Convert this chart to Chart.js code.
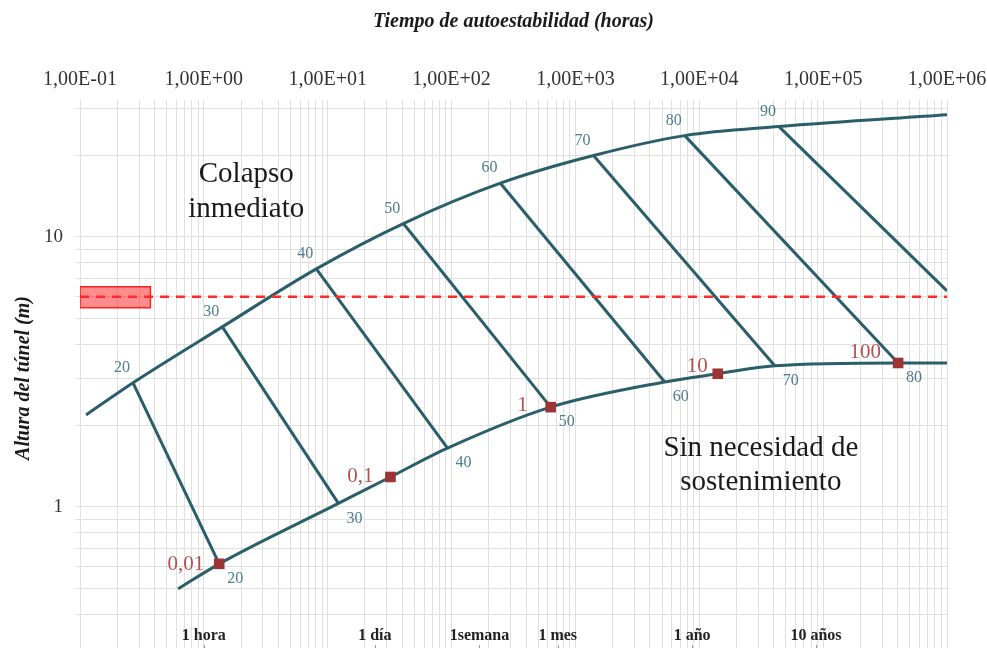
<!DOCTYPE html>
<html>
<head>
<meta charset="utf-8">
<script src="https://cdn.jsdelivr.net/npm/chart.js@4.4.1/dist/chart.umd.min.js"></script>
<style>
html, body { margin: 0; padding: 0; background: #fff; }
</style>
</head>
<body>
<canvas id="c" width="987" height="648"></canvas>
<script>
// axis ticks
var xMajorTicks = [0.1, 1, 10, 100, 1000, 10000, 100000, 1000000];
var xMajorLabels = ['1,00E-01', '1,00E+00', '1,00E+01', '1,00E+02', '1,00E+03', '1,00E+04', '1,00E+05', '1,00E+06'];
var yMajorTicks = [1, 10];
var yMajorLabels = ['1', '10'];

// upper boundary (colapso inmediato)
var upperX = [0.112, 0.268, 1.41, 8.09, 40.8, 248, 1400, 7640, 44000, 1000000];
var upperY = [2.19, 2.88, 4.64, 7.61, 11.2, 15.8, 20.0, 23.7, 25.6, 28.3];

// lower boundary (sin necesidad de sostenimiento)
var lowerX = [0.62, 1.33, 12.2, 32.1, 92.7, 631, 5260, 14100, 40700, 403000, 1000000];
var lowerY = [0.497, 0.615, 1.03, 1.29, 1.65, 2.34, 2.90, 3.11, 3.33, 3.41, 3.41];

// RMR lines: start on upper curve, end on lower curve (90 leaves at right edge)
var rmrTop = [20, 30, 40, 50, 60, 70, 80, 90];
var rmrTopX = [0.268, 1.41, 8.09, 40.8, 248, 1400, 7640, 44000];
var rmrTopY = [2.88, 4.64, 7.61, 11.2, 15.8, 20.0, 23.7, 25.6];
var rmrEndX = [1.33, 12.2, 92.7, 631, 5260, 40700, 403000, 1000000];
var rmrEndY = [0.615, 1.03, 1.65, 2.34, 2.90, 3.33, 3.41, 6.31];
var rmrBottom = [20, 30, 40, 50, 60, 70, 80];

// span points (m)
var spanLabels = ['0,01', '0,1', '1', '10', '100'];
var spanX = [1.33, 32.1, 631, 14100, 403000];
var spanY = [0.615, 1.29, 2.34, 3.11, 3.41];

// tunnel height band
var tunnelHeight = 6;
var bandX = [0.1, 0.37];
var bandY = [5.46, 6.53];

// time references (hours)
var timeMarks = [1, 24, 168, 720, 8760, 87600];
var timeLabels = ['1 hora', '1 día', '1semana', '1 mes', '1 año', '10 años'];

var SERIF = '"Liberation Serif", "Times New Roman", serif';
var TEAL = '#2a5e6a';

function pts(xs, ys) {
   return xs.map(function (x, i) { return { x: x, y: ys[i] }; });
}

function logTicks(min, max) {
   var t = [];
   for (var e = Math.floor(Math.log10(min)); e <= Math.ceil(Math.log10(max)); e++) {
      for (var m = 1; m < 10; m++) {
         var v = m * Math.pow(10, e);
         if (v >= min * 0.999 && v <= max * 1.001) t.push({ value: v });
      }
   }
   return t;
}

function majorLabel(v, ticks, labels) {
   var l = Math.log10(v);
   if (Math.abs(l - Math.round(l)) > 1e-6) return '';
   for (var i = 0; i < ticks.length; i++) {
      if (Math.abs(Math.log10(ticks[i]) - l) < 1e-6) return labels[i];
   }
   return '';
}

var datasets = [];

datasets.push({
   data: pts(spanX, spanY), showLine: false, order: 0,
   pointStyle: 'rect', pointRadius: 7.5, pointBackgroundColor: '#9c3434', pointBorderWidth: 0
});
datasets.push({
   data: [{ x: 0.1, y: tunnelHeight }, { x: 1000000, y: tunnelHeight }], showLine: true, order: 1,
   borderColor: '#ff2b2b', borderWidth: 2.5, borderDash: [9, 7], pointRadius: 0
});
datasets.push({
   data: [{ x: bandX[0], y: bandY[0] }, { x: bandX[1], y: bandY[0] }, { x: bandX[1], y: bandY[1] },
          { x: bandX[0], y: bandY[1] }, { x: bandX[0], y: bandY[0] }],
   showLine: true, order: 2, fill: 'shape',
   borderColor: '#ff2020', borderWidth: 1.5, backgroundColor: 'rgba(255,45,45,0.55)', pointRadius: 0
});
datasets.push({
   data: pts(upperX, upperY), showLine: true, order: 5, cubicInterpolationMode: 'monotone',
   borderColor: TEAL, borderWidth: 3, pointRadius: 0
});
datasets.push({
   data: pts(lowerX, lowerY), showLine: true, order: 5, cubicInterpolationMode: 'monotone',
   borderColor: TEAL, borderWidth: 3, pointRadius: 0
});
for (var i = 0; i < rmrTop.length; i++) {
   datasets.push({
      data: [{ x: rmrTopX[i], y: rmrTopY[i] }, { x: rmrEndX[i], y: rmrEndY[i] }],
      showLine: true, order: 6, borderColor: TEAL, borderWidth: 3, pointRadius: 0
   });
}

var overlay = {
   id: 'overlay',
   afterDatasetsDraw: function (chart) {
      var ctx = chart.ctx, xs = chart.scales.x, ys = chart.scales.y, area = chart.chartArea;
      ctx.save();
      ctx.textBaseline = 'middle';

      // RMR numbers
      ctx.font = '16px ' + SERIF;
      ctx.fillStyle = '#4b7d8b';
      ctx.textAlign = 'center';
      rmrTop.forEach(function (v, i) {
         ctx.fillText(String(v), xs.getPixelForValue(rmrTopX[i]) - 11, ys.getPixelForValue(rmrTopY[i]) - 15);
      });
      rmrBottom.forEach(function (v, i) {
         ctx.fillText(String(v), xs.getPixelForValue(rmrEndX[i]) + 16, ys.getPixelForValue(rmrEndY[i]) + 15);
      });

      // span labels
      var offs = [[-15, 1], [-17, 0], [-23, -2], [-10, -7], [-17, -10]];
      ctx.font = '21px ' + SERIF;
      ctx.fillStyle = '#b35050';
      ctx.textAlign = 'right';
      spanLabels.forEach(function (s, i) {
         ctx.fillText(s, xs.getPixelForValue(spanX[i]) + offs[i][0], ys.getPixelForValue(spanY[i]) + offs[i][1]);
      });

      // region notes
      ctx.font = '29px ' + SERIF;
      ctx.fillStyle = '#1a1a1a';
      ctx.textAlign = 'center';
      var cx = xs.getPixelForValue(2.2), cy = ys.getPixelForValue(17.1);
      ctx.fillText('Colapso', cx, cy);
      ctx.fillText('inmediato', cx, cy + 35);
      cx = xs.getPixelForValue(31400); cy = ys.getPixelForValue(1.65);
      ctx.fillText('Sin necesidad de', cx, cy);
      ctx.fillText('sostenimiento', cx, cy + 34);

      // time references along the bottom
      ctx.font = 'bold 16px ' + SERIF;
      ctx.fillStyle = '#222';
      ctx.strokeStyle = '#999';
      ctx.lineWidth = 1;
      timeMarks.forEach(function (h, i) {
         var px = xs.getPixelForValue(h);
         ctx.fillText(timeLabels[i], px, area.bottom - 12);
         ctx.beginPath();
         ctx.moveTo(Math.round(px) + 0.5, area.bottom - 3);
         ctx.lineTo(Math.round(px) + 0.5, area.bottom);
         ctx.stroke();
      });
      ctx.restore();
   }
};

new Chart(document.getElementById('c'), {
   type: 'scatter',
   data: { datasets: datasets },
   plugins: [overlay],
   options: {
      responsive: false,
      animation: false,
      layout: { autoPadding: false, padding: { left: 0, right: 40, top: 0, bottom: 0 } },
      plugins: { legend: { display: false }, tooltip: { enabled: false } },
      scales: {
         x: {
            type: 'logarithmic', position: 'top', min: 0.1, max: 1000000,
            afterBuildTicks: function (s) { s.ticks = logTicks(0.1, 1000000); },
            afterFit: function (s) { s.height = 108; s.paddingLeft = 0; s.paddingRight = 0; },
            border: { display: false },
            grid: { color: '#e0e0e0', tickLength: 8 },
            ticks: {
               autoSkip: false, maxRotation: 0, padding: 8, color: '#333',
               font: { family: SERIF, size: 20 },
               callback: function (v) { return majorLabel(v, xMajorTicks, xMajorLabels); }
            },
            title: {
               display: true, text: 'Tiempo de autoestabilidad (horas)', color: '#1a1a1a',
               padding: { top: 10, bottom: 0 },
               font: { family: SERIF, size: 20, weight: 'bold', style: 'italic' }
            }
         },
         y: {
            type: 'logarithmic', position: 'left', min: 0.3, max: 30,
            afterBuildTicks: function (s) { s.ticks = logTicks(0.3, 30); },
            afterFit: function (s) { s.width = 80; s.paddingTop = 0; s.paddingBottom = 0; },
            border: { display: false },
            grid: { color: '#e0e0e0', tickLength: 5 },
            ticks: {
               autoSkip: false, padding: 12, color: '#333',
               font: { family: SERIF, size: 19 },
               callback: function (v) { return majorLabel(v, yMajorTicks, yMajorLabels); }
            },
            title: {
               display: true, text: 'Altura del túnel (m)', color: '#1a1a1a',
               padding: { top: 12, bottom: 0 },
               font: { family: SERIF, size: 20, weight: 'bold', style: 'italic' }
            }
         }
      }
   }
});
</script>
</body>
</html>
